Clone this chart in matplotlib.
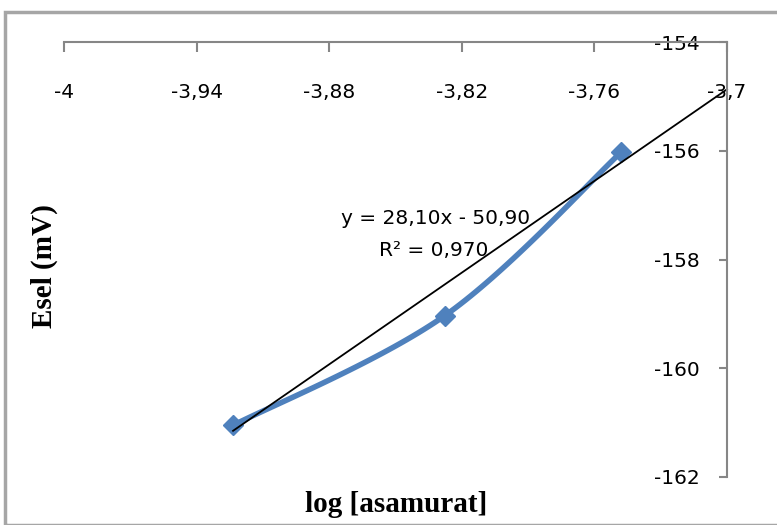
import numpy as np
import matplotlib
matplotlib.use("Agg")
import matplotlib.pyplot as plt
from matplotlib.patches import Rectangle

# data
log_conc = [-3.9235, -3.8276, -3.7480]
e_sel = [-161.05, -159.03, -156.03]
slope, intercept = 28.10, -50.90
eq_text = "y = 28,10x - 50,90"
r2_text = "R² = 0,970"
xticks = [-4, -3.94, -3.88, -3.82, -3.76, -3.7]
xtick_labels = ["-4", "-3,94", "-3,88", "-3,82", "-3,76", "-3,7"]
yticks = [-162, -160, -158, -156, -154]
ytick_labels = ["-162", "-160", "-158", "-156", "-154"]

blue = "#4F81BD"
grey = "#868686"

fig = plt.figure(figsize=(7.77, 5.25), dpi=100)
ax = fig.add_axes([64/777, 1-477/525, (727-64)/777, (477-42)/525])
ax.set_xlim(-4, -3.7)
ax.set_ylim(-162, -154)

# chart area border (Excel frame)
fig.patches.append(Rectangle((5/777, 0), 1, 1-12/525, transform=fig.transFigure,
                             fill=False, edgecolor="#a6a6a6", lw=2.5))

for s in ["left", "bottom"]:
    ax.spines[s].set_visible(False)
for s in ["top", "right"]:
    ax.spines[s].set_color(grey)
    ax.spines[s].set_linewidth(1.5)

ax.xaxis.tick_top()
ax.yaxis.tick_right()
ax.set_xticks(xticks)
ax.set_xticklabels(xtick_labels)
ax.set_yticks(yticks)
ax.set_yticklabels(ytick_labels)
ax.tick_params(axis="x", direction="in", length=7, width=1.5, color=grey,
               pad=-43, labelsize=14.5)
ax.tick_params(axis="y", direction="in", length=6, width=1.5, color=grey,
               pad=-52.5, labelsize=14.5)

# smoothed line like Excel (Catmull-Rom in display space)
pts = ax.transData.transform(np.column_stack([log_conc, e_sel]))
P = np.vstack([pts[0], pts, pts[-1]])
t = np.linspace(0, 1, 40)[:, None]
curve = []
for i in range(1, len(P) - 2):
    p0, p1, p2, p3 = P[i-1], P[i], P[i+1], P[i+2]
    c1 = p1 + (p2 - p0) / 6
    c2 = p2 - (p3 - p1) / 6
    seg = ((1-t)**3)*p1 + 3*((1-t)**2)*t*c1 + 3*(1-t)*t**2*c2 + t**3*p2
    curve.append(seg)
curve = ax.transData.inverted().transform(np.vstack(curve))
ax.plot(curve[:, 0], curve[:, 1], color=blue, lw=4, solid_capstyle="round",
        clip_on=False)
ax.plot(log_conc, e_sel, ls="none", marker="D", ms=10, color=blue, clip_on=False)

# linear trendline
xt = np.array([log_conc[0], -3.7])
ax.plot(xt, slope*xt + intercept, color="black", lw=1.3, clip_on=False)

ax.text(-3.8317, -157.24, eq_text, ha="center", va="center", fontsize=14.5)
ax.text(-3.8326, -157.83, r2_text, ha="center", va="center", fontsize=14.5)

fig.text(396/777, 1-505/525, "log [asamurat]", ha="center", va="center",
         family="Liberation Serif", weight="bold", fontsize=21)
fig.text(44/777, 1-266/525, "Esel (mV)", ha="center", va="center", rotation=90,
         family="Liberation Serif", weight="bold", fontsize=21)

fig.savefig("out.png", dpi=100)
